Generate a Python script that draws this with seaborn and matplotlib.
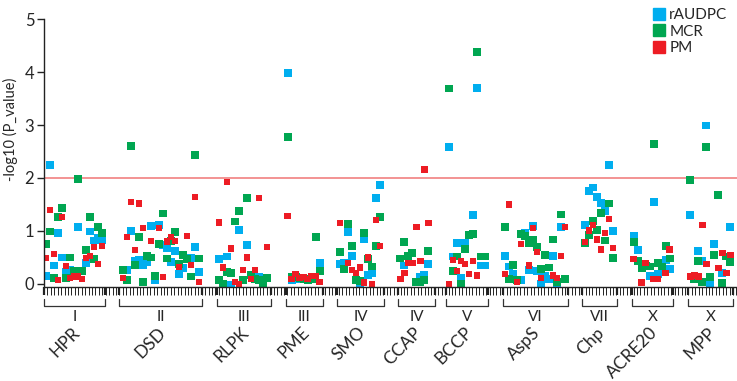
import numpy as np
import pandas as pd
import matplotlib
matplotlib.use("Agg")
import matplotlib.pyplot as plt
import seaborn as sns
from matplotlib.lines import Line2D

# SNP position along the x axis and -log10(P) for each trait
raudpc_pos = [1, 2, 3, 4, 5, 6, 7, 9, 11, 12, 13, 14, 15,
              21.2, 22.2, 23.2, 24.2, 25.2, 26.2, 27.2, 28.2, 29.2, 30.2, 31.2, 32.2, 33.2, 34.2, 35.2, 37.2, 38.2, 39.2,
              44.3, 46.3, 47.3, 49.3, 51.3, 54.3,
              61.4, 62.4, 63.4, 69.4,
              74.5, 75.5, 76.5, 77.5, 79.5, 80.5, 81.5, 82.5, 83.5, 84.5,
              90.6, 94.6, 95.6, 96.6,
              101.7, 102.7, 103.7, 104.7, 105.7, 107.7, 108.7, 109.7, 110.7,
              115.7, 116.8, 117.8, 119.8, 120.8, 121.8, 122.8, 123.8, 124.8, 125.8, 126.8, 127.8, 128.8, 129.8,
              135.8, 136.8, 137.8, 138.8, 139.8, 140.8, 141.8, 142.8,
              147.9, 148.9, 151.9, 152.9, 153.9, 155.9, 156.9,
              162.1, 164.1, 165.1, 166.1, 167.1, 168.1, 170.1, 172.1]
raudpc_val = [0.15, 2.25, 0.35, 0.97, 0.50, 0.23, 0.26, 1.08, 0.40, 0.99, 0.82, 0.86, 0.82,
              0.26, 1.00, 0.44, 0.45, 0.36, 0.42, 1.10, 0.08, 1.11, 0.73, 0.68, 0.42, 0.63, 0.19, 0.30, 0.49, 0.69, 0.23,
              0.47, 0.52, -0.01, 1.02, 0.74, 0.14,
              3.98, 0.07, 0.10, 0.40,
              0.38, 0.39, 0.98, 0.53, -0.03, 0.85, 0.17, 0.21, 1.62, 1.86,
              0.35, 0.14, 0.17, 0.38,
              2.59, 0.52, 0.77, 0.12, 0.77, 1.30, 3.70, 0.35, 0.35,
              0.53, 0.33, 0.19, 0.08, 0.96, 0.26, 1.09, 0.24, 0.00, 0.15, 0.10, 0.53, 0.00, 1.08,
              1.12, 1.76, 1.82, 1.64, 1.53, 1.37, 2.25, 1.00,
              0.91, 0.64, 0.15, 1.54, 0.19, 0.45, 0.28,
              1.30, 0.63, 0.43, 2.99, 0.02, 0.75, 0.21, 1.08]

mcr_pos = [1, 2, 3, 4, 5, 6, 7, 8, 9, 10, 11, 12, 13, 14, 15,
           20.2, 21.2, 22.2, 23.2, 24.2, 25.2, 26.2, 27.2, 28.2, 29.2, 30.2, 31.2, 32.2, 33.2, 34.2, 35.2, 36.2, 37.2, 38.2, 39.2,
           44.3, 45.3, 46.3, 47.3, 48.3, 49.3, 50.3, 51.3, 52.3, 53.3, 54.3, 55.3, 56.3,
           61.4, 62.4, 63.4, 64.4, 65.4, 66.4, 67.4, 68.4, 69.4,
           74.5, 75.5, 76.5, 77.5, 78.5, 79.5, 80.5, 81.5, 82.5, 83.5, 84.5,
           89.6, 90.6, 91.6, 92.6, 93.6, 94.6, 95.6, 96.6,
           101.7, 102.7, 103.7, 104.7, 105.7, 106.7, 107.7, 108.7, 109.7, 110.7,
           115.7, 116.8, 117.8, 118.8, 119.8, 120.8, 121.8, 122.8, 123.8, 124.8, 125.8, 126.8, 127.8, 128.8, 129.8, 130.8,
           135.8, 136.8, 137.8, 138.8, 139.8, 140.8, 141.8, 142.8,
           147.9, 148.9, 149.9, 150.9, 151.9, 152.9, 153.9, 154.9, 155.9, 156.9,
           162.1, 163.1, 164.1, 165.1, 166.1, 167.1, 168.1, 169.1, 170.1, 171.1, 172.1]
mcr_val = [0.75, 0.99, 0.12, 1.26, 1.43, 0.12, 0.50, 0.25, 1.98, 0.25, 0.64, 1.27, 0.47, 1.08, 0.97,
           0.26, 0.08, 2.60, 0.36, 0.88, 0.04, 0.53, 0.50, 0.15, 0.75, 1.33, 0.48, 0.81, 0.98, 0.38, 0.54, 0.47, 0.14, 2.43, 0.48,
           0.08, 0.00, 0.23, 0.20, 1.18, 1.38, 0.08, 1.63, 0.17, 0.09, 0.08, -0.01, 0.11,
           2.78, 0.13, 0.13, 0.12, 0.10, 0.08, 0.09, 0.89, 0.25,
           0.61, 0.28, 1.14, 0.71, 0.07, 0.06, 0.97, 0.47, 0.33, 0.72, 1.27,
           0.48, 0.80, 0.53, 0.58, 0.03, 0.03, 0.08, 0.62,
           3.69, 0.25, 0.52, 0.01, 0.66, 0.92, 0.94, 4.38, 0.52, 0.52,
           1.07, 0.10, 0.36, 0.08, 0.94, 0.91, 0.77, 0.83, 0.70, 0.28, 0.54, 0.31, 0.84, 0.04, 1.31, 0.10,
           0.77, 0.92, 1.19, 1.02, 1.34, 0.82, 1.52, 0.49,
           0.79, 0.43, 0.30, 0.35, 0.33, 2.64, 0.40, 0.33, 0.72, 0.48,
           1.97, 0.09, 0.43, 0.04, 2.59, 0.13, 0.55, 1.68, 0.02, 0.52, 0.42]

pm_pos = [1, 2, 3, 4, 5, 6, 7, 8, 9, 10, 11, 12, 13, 14, 15,
          20.2, 21.2, 22.2, 23.2, 24.2, 25.2, 27.2, 29.2, 30.2, 31.2, 32.2, 33.2, 34.2, 36.2, 37.2, 38.2, 39.2,
          44.3, 45.3, 46.3, 47.3, 48.3, 49.3, 50.3, 51.3, 52.3, 53.3, 54.3, 56.3,
          61.4, 62.4, 63.4, 64.4, 65.4, 66.4, 67.4, 68.4, 69.4,
          74.5, 76.5, 77.5, 78.5, 79.5, 80.5, 81.5, 82.5, 83.5, 84.5,
          89.6, 90.6, 91.6, 92.6, 93.6, 94.6, 95.6, 96.6,
          101.7, 102.7, 103.7, 104.7, 105.7, 106.7, 107.7, 108.7,
          115.7, 116.8, 118.8, 119.8, 121.8, 122.8, 123.8, 124.8, 127.8, 128.8, 129.8, 130.8,
          135.8, 136.8, 137.8, 138.8, 139.8, 140.8, 141.8, 142.8,
          147.9, 149.9, 150.9, 152.9, 153.9, 155.9, 156.9,
          162.1, 163.1, 164.1, 165.1, 166.1, 169.1, 170.1, 171.1, 172.1]
pm_val = [0.49, 1.40, 0.57, 0.08, 1.26, 0.34, 0.11, 0.14, 0.14, 0.10, 0.49, 0.53, 0.70, 0.38, 0.72,
          0.11, 0.88, 1.55, 0.64, 1.52, 1.05, 0.81, 1.06, 0.13, 0.80, 0.88, 0.81, 0.32, 0.90, 0.36, 1.64, 0.04,
          1.16, 0.31, 1.92, 0.67, 0.04, 0.00, 0.26, 0.50, 0.10, 0.26, 1.62, 0.70,
          1.29, 0.10, 0.19, 0.12, 0.13, 0.10, 0.15, 0.15, 0.04,
          1.15, 0.39, 0.27, 0.20, 0.31, 0.03, 0.50, -0.01, 1.21, 0.72,
          0.09, 0.20, 0.39, 0.39, 1.07, 0.43, 2.16, 1.15,
          -0.01, 0.45, 0.25, 0.43, 0.37, 0.19, 0.43, 0.16,
          0.19, 1.50, 0.04, 0.75, 0.35, 1.05, 0.61, 0.11, 0.16, 0.11, 0.53, 1.07,
          0.79, 1.01, 1.12, 0.84, 0.65, 0.96, 1.23, 0.68,
          0.47, 0.03, 0.40, 0.09, 0.09, 0.21, 0.65,
          0.14, 0.16, 0.14, 1.11, 0.38, 0.30, 0.59, 0.21, 0.54]

# gene groups along the axis
group_names = ['HPR', 'DSD', 'RLPK', 'PME', 'SMO', 'CCAP', 'BCCP', 'AspS', 'Chp', 'ACRE20', 'MPP']
group_chrom = ['I', 'II', 'III', 'III', 'IV', 'IV', 'V', 'VI', 'VII', 'X', 'X']
group_lo = [0.5, 19.25, 43.75, 61, 73.75, 89, 101, 115.25, 135, 147.5, 161.5]
group_hi = [15.75, 40, 57.25, 70.25, 85.5, 98.25, 111.5, 131.5, 143.75, 157.75, 172.75]

threshold = 2

df = pd.concat([
    pd.DataFrame({'pos': raudpc_pos, 'logp': raudpc_val, 'trait': 'rAUDPC'}),
    pd.DataFrame({'pos': mcr_pos, 'logp': mcr_val, 'trait': 'MCR'}),
    pd.DataFrame({'pos': pm_pos, 'logp': pm_val, 'trait': 'PM'}),
], ignore_index=True)

sns.set_style('ticks')
plt.rcParams['font.family'] = ['Lato', 'DejaVu Sans']

colors = {'rAUDPC': '#00AEEF', 'MCR': '#00A651', 'PM': '#ED1C24'}

fig = plt.figure(figsize=(7.37, 3.81), dpi=100)
ax = fig.add_axes([0.0597, 0.2467, 0.9403, 0.7034])

ax.axhline(threshold, color='#F28A8A', lw=1.3, zorder=0.5)
sns.scatterplot(data=df, x='pos', y='logp', hue='trait', size='trait',
                sizes={'rAUDPC': 32, 'MCR': 32, 'PM': 20}, palette=colors,
                marker='s', linewidth=0, legend=False, ax=ax, zorder=2)

ax.set_xlim(0.5, 173.75)
ax.set_ylim(-0.057, 5)
sns.despine(ax=ax)
for s in ['left', 'bottom']:
    ax.spines[s].set_color('#222222')
    ax.spines[s].set_linewidth(1.0)

ax.set_yticks(range(6))
ax.tick_params(axis='y', length=5, width=1, color='#222222', labelsize=12, pad=2)
ax.set_xlabel('')
ax.set_ylabel('')

# little ticks under the axis, heavier ones at the gene boundaries
ax.set_xticks(np.arange(0.5, 173.8, 0.857), minor=True)
ax.set_xticks(group_lo + group_hi)
ax.set_xticklabels([])
ax.tick_params(axis='x', which='minor', length=5.5, width=0.7, color='#222222')
ax.tick_params(axis='x', which='major', length=5.5, width=1.6, color='#222222')

for name, chrom, lo, hi in zip(group_names, group_chrom, group_lo, group_hi):
    mid = (lo + hi) / 2
    ax.plot([lo, lo, hi, hi], [-0.28, -0.415, -0.415, -0.28], color='#333333', lw=0.9, clip_on=False)
    ax.text(mid, -0.63, chrom, ha='center', va='center', fontsize=11, clip_on=False)
    ax.text(mid + 2, -0.76, name, rotation=45, ha='right', va='top', fontsize=12.5, clip_on=False)

fig.text(10 / 737, 0.66, '-log10 (P_value)', rotation=90, ha='center', va='center', fontsize=10.5)

handles = [Line2D([], [], marker='s', ls='', color=colors[k], markersize=8.5) for k in colors]
fig.legend(handles, list(colors), loc='upper left', bbox_to_anchor=(641 / 737, 1.0),
           frameon=False, fontsize=11, handletextpad=0.1, labelspacing=0.15,
           handlelength=1.2, borderaxespad=0.15)

fig.savefig('out.png', dpi=100)
